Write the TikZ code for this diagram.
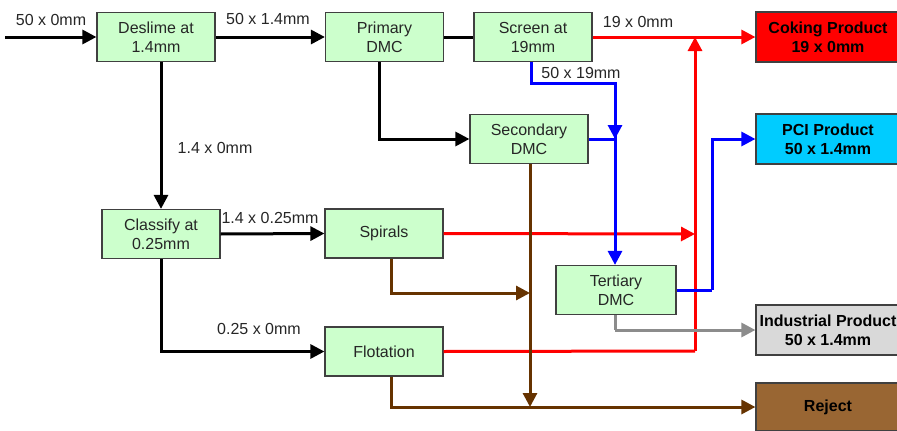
\documentclass[tikz,border=0pt]{standalone}
\usepackage{fontspec}
\setmainfont{Liberation Sans}
\usetikzlibrary{arrows.meta}
\definecolor{boxg}{HTML}{CCFFCC}
\definecolor{boxedge}{HTML}{404040}
\definecolor{txt}{HTML}{262626}
\definecolor{cyanp}{HTML}{00CCFF}
\definecolor{greyp}{HTML}{D9D9D9}
\definecolor{brownp}{HTML}{996633}
\definecolor{brownl}{HTML}{663300}
\definecolor{greyl}{HTML}{8C8C8C}
\begin{document}
\begin{tikzpicture}[x=1pt,y=-1pt,
  proc/.style={draw=boxedge,line width=1.2pt,fill=boxg,minimum width=118pt,minimum height=49pt,
    align=center,font=\fontsize{16}{19}\selectfont,text=txt,inner sep=1pt},
  prod/.style={draw=boxedge,line width=1.2pt,minimum width=144pt,minimum height=50pt,
    align=center,font=\fontsize{16}{19}\selectfont\bfseries,text=black,inner sep=1pt},
  lbl/.style={font=\fontsize{16}{19}\selectfont,text=txt,inner sep=0pt},
  flow/.style={line width=3pt},
  arr/.style={flow,-{Triangle[length=14pt,width=14pt]}}]
\useasboundingbox (0,0) rectangle (897,431);
% process nodes
\node[proc] (deslime) at (156,37) {Deslime at\\1.4mm};
\node[proc] (primary) at (384.5,37) {Primary\\DMC};
\node[proc] (screen) at (533,37) {Screen at\\19mm};
\node[proc] (secondary) at (529,139) {Secondary\\DMC};
\node[proc] (classify) at (161,234) {Classify at\\0.25mm};
\node[proc] (spirals) at (384,233.5) {Spirals};
\node[proc] (flotation) at (384,351.5) {Flotation};
\node[proc,minimum width=120pt] (tertiary) at (616,290) {Tertiary\\DMC};
% products
\node[prod,fill=red] (coking) at (828,37) {Coking Product\\19 x 0mm};
\node[prod,fill=cyanp] (pci) at (828,139) {PCI Product\\50 x 1.4mm};
\node[prod,fill=greyp] (industrial) at (828,330) {Industrial Product\\50 x 1.4mm};
\node[prod,fill=brownp,minimum height=48pt] (reject) at (828,407) {Reject};
% coordinates
\coordinate (feed) at (5,37);
\coordinate (redtop) at (695,37);
\coordinate (redspiral) at (695,234);
\coordinate (redflot) at (695,351);
\coordinate (bluebend) at (531,83);
\coordinate (bluej) at (615,139);
\coordinate (blueup) at (712,290);
\coordinate (brownj) at (530,293);
\coordinate (brownbot) at (530,407);
\coordinate (greybend) at (615,330);
% black flows
\draw[arr] (feed) -- (deslime.west);
\draw[arr] (deslime.east) -- (primary.west);
\draw[flow] (primary.east) -- (screen.west);
\draw[arr] (deslime.south -| classify.north) -- (classify.north);
\draw[arr] ([xshift=-5pt]primary.south) |- (secondary.west);
\draw[arr] (classify.east) -- (spirals.west);
\draw[arr] (classify.south) |- (flotation.west);
% red flows
\draw[arr,red] (screen.east) -- (coking.west);
\draw[arr,red] (spirals.east) -- (redspiral);
\draw[flow,red] (flotation.east) -- (redflot);
\draw[arr,red] (redflot) -- (redtop);
% blue flows
\draw[flow,blue] (screen.south -| bluebend) -- (bluebend) -| ([yshift=-1pt]bluej);
\draw[arr,blue] (bluebend -| bluej) -- (bluej);
\draw[flow,blue] (secondary.east) -- (bluej);
\draw[arr,blue] (bluej) -- (bluej |- tertiary.north);
\draw[flow,blue] (tertiary.east) -- (blueup);
\draw[arr,blue] (blueup) |- (pci.west);
% grey flow
\draw[flow,greyl] (greybend |- tertiary.south) -- (greybend);
\draw[arr,greyl] (greybend) -- (industrial.west);
% brown flows
\draw[arr,brownl] (brownj |- secondary.south) -- (brownbot);
\draw[flow,brownl] ([xshift=7pt]spirals.south) |- ([xshift=-20pt]brownj);
\draw[arr,brownl] ([xshift=-20pt]brownj) -- (brownj);
\draw[arr,brownl] ([xshift=7pt]flotation.south) |- (reject.west);
% labels
\node[lbl] (l1) at (51,20) {50 x 0mm};
\node[lbl] (l2) at (268,19) {50 x 1.4mm};
\node[lbl] (l3) at (638,22) {19 x 0mm};
\node[lbl] (l4) at (581,73) {50 x 19mm};
\node[lbl] (l5) at (215,148) {1.4 x 0mm};
\node[lbl] (l6) at (270,218) {1.4 x 0.25mm};
\node[lbl] (l7) at (259,329) {0.25 x 0mm};
\end{tikzpicture}
\end{document}
